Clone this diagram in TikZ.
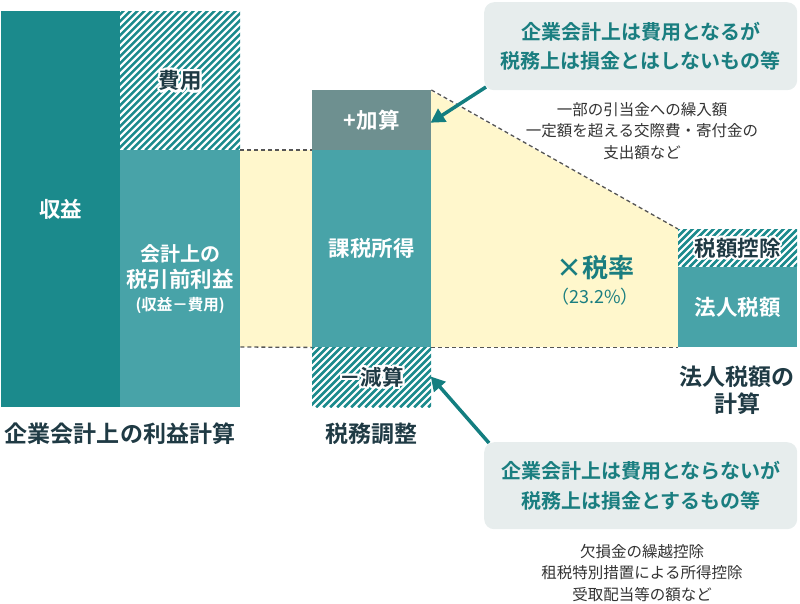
\documentclass[tikz,border=0pt]{standalone}
\usepackage{fontspec}
\setmainfont{Noto Sans CJK JP}[BoldFont={Noto Sans CJK JP Bold}]
\usetikzlibrary{arrows.meta}
\definecolor{tealdark}{HTML}{1B8A8C}
\definecolor{tealmid}{HTML}{48A3A8}
\definecolor{grayteal}{HTML}{6E9090}
\definecolor{cream}{HTML}{FFF7CC}
\definecolor{callbg}{HTML}{E7EDED}
\definecolor{calltxt}{HTML}{1A7E80}
\definecolor{darktxt}{HTML}{1F3A44}
\definecolor{graytxt}{HTML}{333333}
\definecolor{dashc}{HTML}{555555}
\definecolor{hatchc}{HTML}{1B8A8C}
\definecolor{arrowc}{HTML}{137E80}
\newcommand\halotext[3]{%
  \foreach \ang in {0,22.5,...,337.5}{\node[hlbl,text=white,shift={(\ang:2.2pt)}] at (#1) {#2};}
  \node[hlbl] (#3) at (#1) {#2};}
\tikzset{
  box/.style={rectangle, draw=none, inner sep=0, anchor=north west, align=center, text=white,
    font=\fontsize{21.5pt}{27pt}\selectfont\bfseries},
  hatched/.style={path picture={
    \foreach \k in {-150,-143,...,130}
      \draw[hatchc, line width=2.6pt] ([xshift=\k pt]path picture bounding box.south west) -- ++(300pt,300pt);}},
  hlbl/.style={inner sep=0, text=darktxt, font=\fontsize{21.5pt}{26pt}\selectfont\bfseries},
  lbl/.style={inner sep=0, text=darktxt, align=center, font=\fontsize{23pt}{27pt}\selectfont\bfseries},
  callout/.style={rectangle, rounded corners=10pt, fill=callbg, inner sep=0, anchor=north west, align=center,
    text=calltxt, font=\fontsize{20pt}{29.5pt}\selectfont\bfseries},
  note/.style={inner sep=0, align=center, text=graytxt, font=\fontsize{15.5pt}{21.5pt}\selectfont},
  dashln/.style={draw=dashc, line width=1.3pt, dash pattern=on 4pt off 3pt},
  arr/.style={draw=arrowc, line width=3.5pt, -{Triangle[length=14pt,width=15pt]}, shorten >=-1pt},
}
\begin{document}
\begin{tikzpicture}[x=1pt,y=-1pt]
\useasboundingbox (0,0) rectangle (800,603);
% cream bands
\fill[cream] (240,150) rectangle (312,347);
\fill[cream] (431,91) -- (678,229) -- (678,347) -- (431,347) -- cycle;
% left column
\node[box, fill=tealdark, minimum width=119pt, minimum height=396pt] (shueki) at (1,11) {収益};
\node[box, hatched, minimum width=120pt, minimum height=139pt] (hiyo) at (120,11) {};
\node[box, fill=tealmid, minimum width=120pt, minimum height=257pt] (zeibiki) at (120,150)
  {\fontsize{20pt}{27pt}\selectfont 会計上の\\[-1pt]税引前利益\\[-4pt]\fontsize{15.5pt}{20pt}\selectfont (収益－費用)};
% middle column
\node[box, fill=grayteal, minimum width=119pt, minimum height=60pt] (kasan) at (312,90) {+加算};
\node[box, fill=tealmid, minimum width=119pt, minimum height=197pt] (kazei) at (312,150) {課税所得};
\node[box, hatched, minimum width=119pt, minimum height=60pt] (genzan) at (312,347) {};
% right column
\node[box, hatched, minimum width=119pt, minimum height=38pt] (kojo) at (678,229) {};
\node[box, fill=tealmid, minimum width=119pt, minimum height=80pt] (hojinzei) at (678,267) {法人税額};
% hatched labels with halo
\halotext{hiyo.center}{費用}{hiyotxt}
\halotext{genzan.center}{－減算}{genzantxt}
\halotext{kojo.center}{税額控除}{kojotxt}
% dashed lines
\draw[dashln] (zeibiki.north east) -- (kazei.north west);
\draw[dashln] ([yshift=-197pt]zeibiki.north east) -- (kazei.south west);
\draw[dashln] (kasan.north east) -- (kojo.north west);
\draw[dashln] (kazei.south east) -- (hojinzei.south west);
% tax rate
\node[inner sep=0, text=calltxt, font=\fontsize{26pt}{30pt}\selectfont\bfseries] (rate) at (595,268) {×税率};
\node[inner sep=0, text=calltxt, font=\fontsize{18pt}{22pt}\selectfont] (ratepct) at (595,297) {（23.2\%）};
% bottom labels
\node[lbl] (lab1) at (120,434) {企業会計上の利益計算};
\node[lbl] (lab2) at (371,434) {税務調整};
\node[lbl] (lab3) at (737,390) {法人税額の\\計算};
% callouts
\node[callout, minimum width=313pt, minimum height=88pt] (call1) at (484,2) {企業会計上は費用となるが\\税務上は損金とはしないもの等};
\node[note] (note1) at (642,131) {一部の引当金への繰入額\\一定額を超える交際費・寄付金の\\支出額など};
\node[callout, minimum width=313pt, minimum height=87pt] (call2) at (484,442) {企業会計上は費用とならないが\\税務上は損金とするもの等};
\node[note] (note2) at (642,573) {欠損金の繰越控除\\租税特別措置による所得控除\\受取配当等の額など};
% arrows
\coordinate (a1s) at (486,87);
\coordinate (a2s) at (489,443);
\draw[arr] (a1s) -- ([yshift=-2pt]kasan.east);
\draw[arr] (a2s) -- (genzan.east);
\end{tikzpicture}
\end{document}
